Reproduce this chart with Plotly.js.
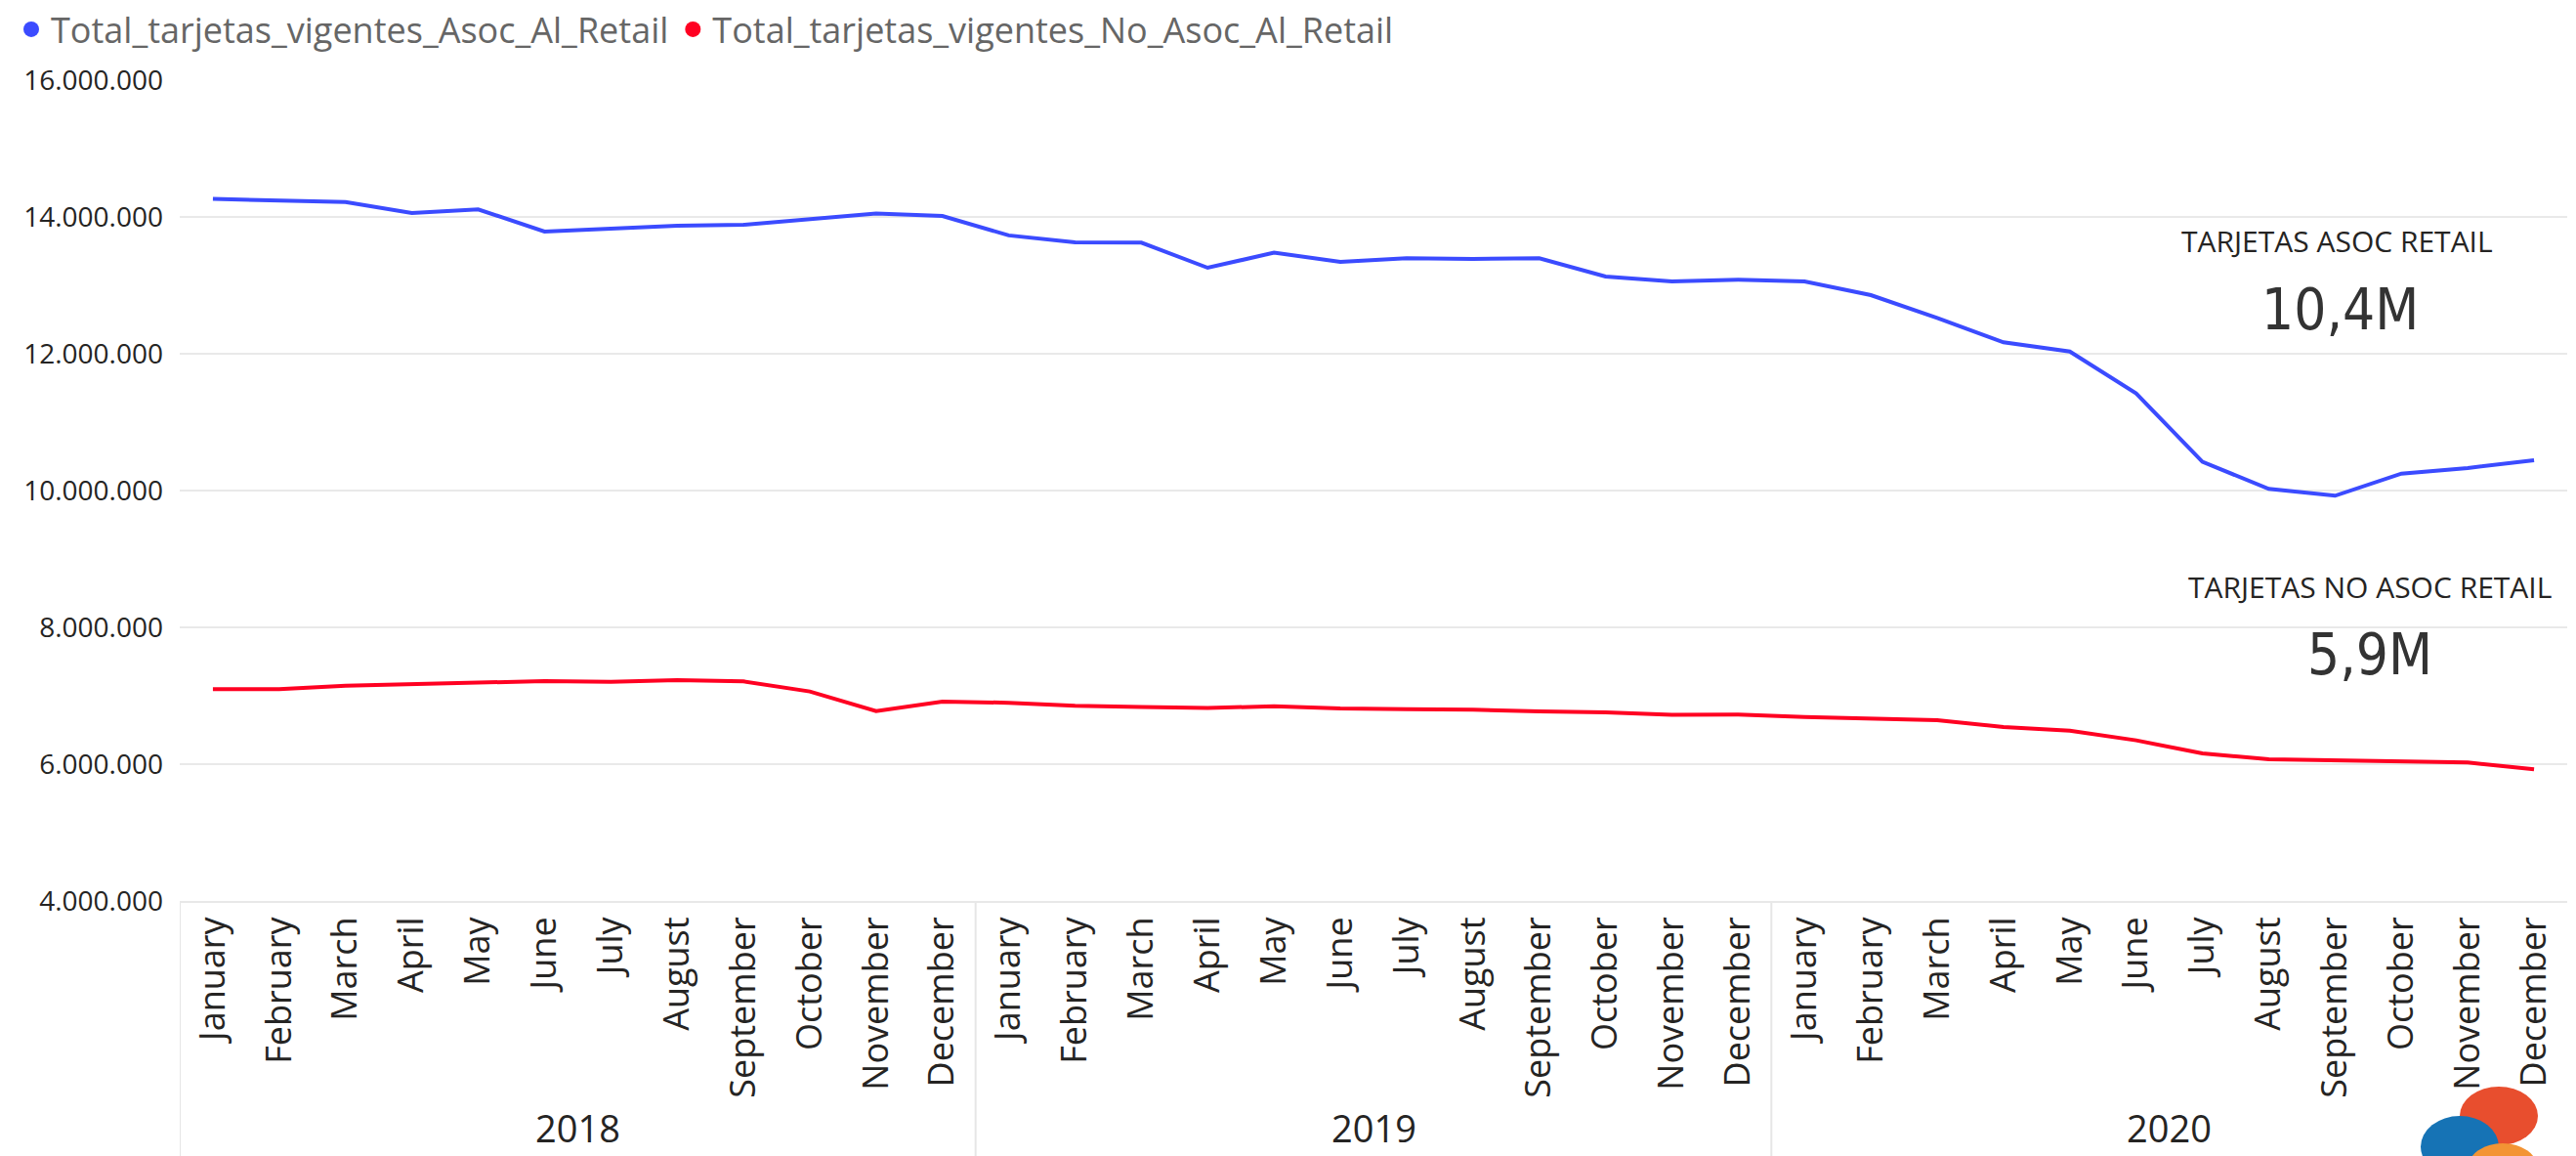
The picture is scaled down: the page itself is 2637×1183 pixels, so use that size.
<!DOCTYPE html>
<html>
<head>
<meta charset="utf-8">
<script src="https://cdn.plot.ly/plotly-3.0.1.min.js"></script>
<style>
  html, body { margin: 0; padding: 0; background: #ffffff; }
  #chart { width: 2637px; height: 1183px; }
</style>
</head>
<body>
<div id="chart"></div>
<script>
// ---------- data ----------
const months = ['January','February','March','April','May','June','July','August','September','October','November','December'];
const years = ['2018','2019','2020'];

const seriesAsocName = 'Total_tarjetas_vigentes_Asoc_Al_Retail';
const seriesNoAsocName = 'Total_tarjetas_vigentes_No_Asoc_Al_Retail';

const asocRetail = [
  14263000, 14240000, 14217000, 14057000, 14110000, 13786000, 13830000, 13870000, 13886000, 13970000, 14050000, 14014000,
  13730000, 13630000, 13624000, 13257000, 13477000, 13343000, 13396000, 13386000, 13396000, 13129000, 13057000, 13081000,
  13057000, 12857000, 12524000, 12167000, 12033000, 11420000, 10420000, 10024000, 9924000, 10248000, 10330000, 10443000
];
const noAsocRetail = [
  7096000, 7096000, 7148000, 7167000, 7190000, 7214000, 7205000, 7229000, 7210000, 7063000, 6777000, 6914000,
  6898000, 6853000, 6834000, 6820000, 6848000, 6814000, 6805000, 6796000, 6771000, 6757000, 6720000, 6724000,
  6688000, 6667000, 6643000, 6543000, 6490000, 6348000, 6157000, 6071000, 6057000, 6048000, 6024000, 5924000
];

const cardAsocLabel = 'TARJETAS ASOC RETAIL';
const cardNoAsocLabel = 'TARJETAS NO ASOC RETAIL';

// ---------- build ----------
const blue = '#3B4BFF';
const red = '#FF0022';
const FONT = "'Segoe UI', 'Open Sans', 'Noto Sans', sans-serif";
const NARROW = "'DIN', 'Liberation Sans Narrow', 'DejaVu Sans Condensed', 'Roboto', sans-serif";

const keys = [];
const tickText = [];
years.forEach(y => months.forEach(m => { keys.push(m + ' ' + y); tickText.push(m); }));

function fmtM(v) { return (v / 1e6).toFixed(1).replace('.', ',') + 'M'; }

// page geometry -> paper coordinates
const W = 2637, H = 1183;
const M = { l: 184, r: 9, t: 82, b: 261 };
const PW = W - M.l - M.r, PH = H - M.t - M.b;
const px = x => (x - M.l) / PW;
const py = y => (H - M.b - y) / PH;

const traces = [
  { type: 'scatter', mode: 'lines', x: keys, y: asocRetail, name: seriesAsocName,
    line: { color: blue, width: 4 }, showlegend: false, hoverinfo: 'skip' },
  { type: 'scatter', mode: 'lines', x: keys, y: noAsocRetail, name: seriesNoAsocName,
    line: { color: red, width: 4 }, showlegend: false, hoverinfo: 'skip' },
  // legend entries (dot symbols)
  { type: 'scatter', mode: 'markers', x: [keys[0]], y: [null], name: seriesAsocName,
    marker: { color: blue, size: 19 }, showlegend: true, hoverinfo: 'skip' },
  { type: 'scatter', mode: 'markers', x: [keys[0]], y: [null], name: seriesNoAsocName,
    marker: { color: red, size: 19 }, showlegend: true, hoverinfo: 'skip' }
];

const annotations = [];
const shapes = [];

// year group labels and dividers
years.forEach((y, k) => {
  annotations.push({
    xref: 'x', yref: 'paper', x: k * months.length + (months.length - 1) / 2, y: py(1182),
    text: y, showarrow: false, xanchor: 'center', yanchor: 'bottom',
    font: { family: FONT, size: 38, color: '#252423' }
  });
  shapes.push({
    type: 'line', xref: 'x', yref: 'paper', x0: k * months.length - 0.5, x1: k * months.length - 0.5,
    y0: 0, y1: py(H), line: { color: '#e6e6e6', width: 2 }, layer: 'below'
  });
});

// cards
annotations.push(
  { xref: 'paper', yref: 'paper', x: px(2392), y: py(247), text: cardAsocLabel, showarrow: false,
    xanchor: 'center', yanchor: 'middle', font: { family: FONT, size: 30, color: '#252423' } },
  { xref: 'paper', yref: 'paper', x: px(2395), y: py(317), text: fmtM(asocRetail[asocRetail.length - 1]), showarrow: false,
    xanchor: 'center', yanchor: 'middle', font: { family: NARROW, size: 58, color: '#333333' } },
  { xref: 'paper', yref: 'paper', x: px(2426), y: py(600), text: cardNoAsocLabel, showarrow: false,
    xanchor: 'center', yanchor: 'middle', font: { family: FONT, size: 30, color: '#252423' } },
  { xref: 'paper', yref: 'paper', x: px(2426), y: py(670), text: fmtM(noAsocRetail[noAsocRetail.length - 1]), showarrow: false,
    xanchor: 'center', yanchor: 'middle', font: { family: NARROW, size: 58, color: '#333333' } }
);

// logo blobs (bottom-right corner)
shapes.push(
  { type: 'circle', xref: 'paper', yref: 'paper', x0: px(2518), x1: px(2598), y0: py(1112), y1: py(1172),
    fillcolor: '#E84E2E', line: { width: 0 } },
  { type: 'circle', xref: 'paper', yref: 'paper', x0: px(2478), x1: px(2558), y0: py(1142), y1: py(1205),
    fillcolor: '#1673B5', line: { width: 0 } },
  { type: 'circle', xref: 'paper', yref: 'paper', x0: px(2526), x1: px(2598), y0: py(1170), y1: py(1222),
    fillcolor: '#F39434', line: { width: 0 } }
);

const layout = {
  width: W, height: H,
  margin: { l: M.l, r: M.r, t: M.t, b: M.b, pad: 0, autoexpand: false },
  paper_bgcolor: '#ffffff', plot_bgcolor: '#ffffff',
  separators: ',.',
  font: { family: FONT, color: '#252423' },
  showlegend: true,
  legend: {
    orientation: 'h', x: px(12), y: py(0), xanchor: 'left', yanchor: 'top',
    font: { family: FONT, size: 36, color: '#666666' },
    itemwidth: 30, tracegroupgap: 0, bgcolor: 'rgba(0,0,0,0)'
  },
  xaxis: {
    type: 'category', categoryorder: 'array', categoryarray: keys,
    range: [-0.5, keys.length - 0.5],
    tickmode: 'array', tickvals: keys, ticktext: tickText,
    tickangle: -90, ticks: '', showgrid: false, zeroline: false,
    showline: true, linecolor: '#e8e8e8', linewidth: 2,
    tickfont: { family: FONT, size: 36, color: '#252423' },
    fixedrange: true
  },
  yaxis: {
    range: [4000000, 16000000], dtick: 2000000, tick0: 0,
    tickformat: ',d', ticks: '', ticklabelstandoff: 16,
    showgrid: true, gridcolor: '#e9e9e9', gridwidth: 2,
    zeroline: false, showline: false,
    tickfont: { family: FONT, size: 28, color: '#252423' },
    fixedrange: true
  },
  annotations: annotations,
  shapes: shapes
};

Plotly.newPlot('chart', traces, layout, { displayModeBar: false, staticPlot: true });
</script>
</body>
</html>
